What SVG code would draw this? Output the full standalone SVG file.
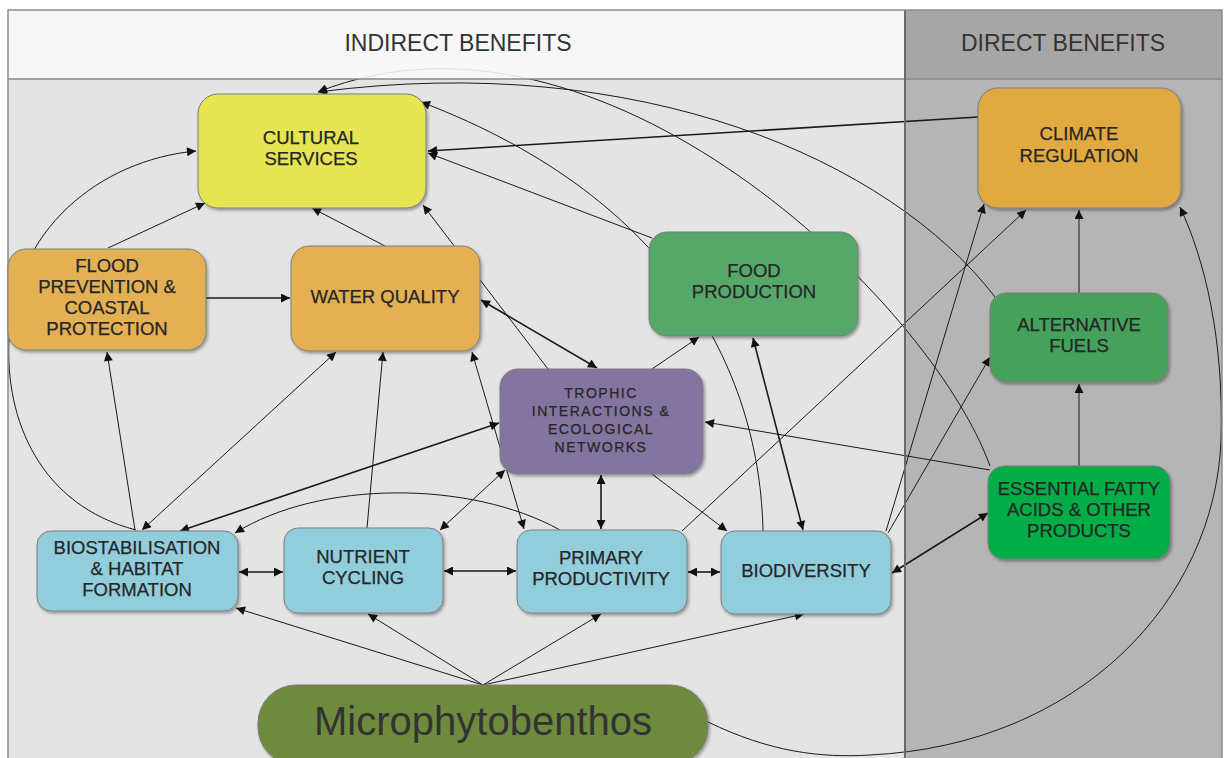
<svg xmlns="http://www.w3.org/2000/svg" width="1225" height="758" viewBox="0 0 1225 758">
<style>
.lbl{font-family:"Liberation Sans",Arial,sans-serif;font-size:18.5px;fill:#262626;text-anchor:middle;stroke:#262626;stroke-width:0.25}
.sm{font-size:14px;letter-spacing:1.5px}
.hdr{font-family:"Liberation Sans",Arial,sans-serif;font-size:23px;fill:#333;text-anchor:middle}
.box{stroke:#7d7d7d;stroke-width:1;filter:url(#sh)}
.c{fill:none;stroke:#1a1a1a;stroke-width:1}
.a{marker-end:url(#ah)}
.b{marker-start:url(#ah);marker-end:url(#ah)}
.t{stroke-width:1.6}
</style>
<defs>
<marker id="ah" viewBox="0 0 10 10" refX="10" refY="5" markerWidth="11" markerHeight="9" markerUnits="userSpaceOnUse" orient="auto-start-reverse">
<path d="M0,0 L10,5 L0,10 z" fill="#111"/>
</marker>
<filter id="sh" x="-10%" y="-10%" width="125%" height="130%">
<feDropShadow dx="1.5" dy="2" stdDeviation="1.5" flood-color="#000" flood-opacity="0.35"/>
</filter>
</defs>
<g id="background">
<rect x="0" y="0" width="1225" height="758" fill="#ffffff"/>
<rect x="8" y="79" width="897" height="679" fill="#e4e4e4"/>
<rect x="905" y="79" width="317" height="679" fill="#b5b5b5"/>
</g>
<g id="connectors">
<path class="c a" d="M108,248 L205,203"/>
<path class="c a" d="M136,530 C 40,505 5,420 9,340 C 12,230 100,160 196,151"/>
<path class="c a" d="M385,246 L312,208"/>
<path class="c a" d="M548,369 L423,205"/>
<path class="c a t" d="M978,117 L428,151"/>
<path class="c a" d="M652,238 L428,153"/>
<path class="c a" d="M763,531 C 760,380 680,200 421,102"/>
<path class="c a" d="M995,297 C 890,160 640,50 318,92"/>
<path class="c a" d="M990,466 C 930,300 600,-20 318,92"/>
<path class="c a t" d="M206,298 L290,298"/>
<path class="c a" d="M135,530 L107,352"/>
<path class="c b" d="M336,352 L142,530"/>
<path class="c a" d="M367,528 L383,352"/>
<path class="c b" d="M472,352 L524,529"/>
<path class="c b t" d="M481,300 L597,368"/>
<path class="c a" d="M652,369 L699,337"/>
<path class="c b t" d="M601,475 L601,529"/>
<path class="c a" d="M652,474 L727,531"/>
<path class="c b" d="M505,470 L440,530"/>
<path class="c b t" d="M180,531 L499,423"/>
<path class="c a" d="M560,530 C 470,480 320,480 235,533"/>
<path class="c b t" d="M239,572 L283,572"/>
<path class="c b t" d="M444,571 L516,571"/>
<path class="c b t" d="M688,572 L720,572"/>
<path class="c b t" d="M753,338 L803,530"/>
<path class="c a" d="M682,531 L1026,210"/>
<path class="c a" d="M886,531 L984,204"/>
<path class="c a" d="M888,533 L990,357"/>
<path class="c b t" d="M892,573 L988,513"/>
<path class="c a" d="M990,470 L705,422"/>
<path class="c a" d="M1079,466 L1079,384"/>
<path class="c a" d="M1079,293 L1079,210"/>
<path class="c a" d="M708,722 C 770,752 820,758 870,755 C 1080,745 1215,600 1221,440 C 1224,340 1205,260 1180,207"/>
<path class="c a" d="M483,685 L236,608"/>
<path class="c a" d="M483,685 L368,614"/>
<path class="c a" d="M483,685 L601,614"/>
<path class="c a" d="M483,685 L804,614"/>
</g>
<g id="headers">
<rect x="8" y="10" width="897" height="69" fill="#f6f6f6" fill-opacity="0.9"/>
<rect x="905" y="10" width="317" height="69" fill="#a6a6a6"/>
<line x1="8" y1="79" x2="1222" y2="79" stroke="#8a8a8a" stroke-width="1.5"/>
<line x1="905" y1="10" x2="905" y2="758" stroke="#6a6a6a" stroke-width="2"/>
<rect x="8" y="10" width="1214" height="760" fill="none" stroke="#8a8a8a" stroke-width="1.5"/>
<text class="hdr" x="458" y="51">INDIRECT BENEFITS</text>
<text class="hdr" x="1063" y="51">DIRECT BENEFITS</text>
</g>
<g id="cultural">
<rect class="box" x="198" y="94" width="228" height="114" rx="20" fill="#e5e552"/>
<text class="lbl" x="311" y="144">CULTURAL</text>
<text class="lbl" x="311" y="165">SERVICES</text>
</g>
<g id="flood">
<rect class="box" x="8" y="249" width="198" height="101" rx="18" fill="#e3b052"/>
<text class="lbl" x="107" y="272">FLOOD</text>
<text class="lbl" x="107" y="293">PREVENTION &amp;</text>
<text class="lbl" x="107" y="314">COASTAL</text>
<text class="lbl" x="107" y="335">PROTECTION</text>
</g>
<g id="water">
<rect class="box" x="291" y="246" width="189" height="105" rx="18" fill="#e3b052"/>
<text class="lbl" x="385" y="303">WATER QUALITY</text>
</g>
<g id="food">
<rect class="box" x="649" y="232" width="209" height="104" rx="18" fill="#56a86b"/>
<text class="lbl" x="754" y="277">FOOD</text>
<text class="lbl" x="754" y="298">PRODUCTION</text>
</g>
<g id="trophic">
<rect class="box" x="500" y="369" width="203" height="105" rx="18" fill="#83749f"/>
<text class="lbl sm" x="601" y="398">TROPHIC</text>
<text class="lbl sm" x="601" y="416">INTERACTIONS &amp;</text>
<text class="lbl sm" x="601" y="434">ECOLOGICAL</text>
<text class="lbl sm" x="601" y="452">NETWORKS</text>
</g>
<g id="climate">
<rect class="box" x="978" y="88" width="203" height="120" rx="20" fill="#e0aa40"/>
<text class="lbl" x="1079" y="140">CLIMATE</text>
<text class="lbl" x="1079" y="162">REGULATION</text>
</g>
<g id="altfuels">
<rect class="box" x="990" y="293" width="178" height="89" rx="16" fill="#44a15b"/>
<text class="lbl" x="1079" y="331">ALTERNATIVE</text>
<text class="lbl" x="1079" y="352">FUELS</text>
</g>
<g id="essential">
<rect class="box" x="988" y="466" width="182" height="93" rx="16" fill="#01ad47"/>
<text class="lbl" x="1079" y="495">ESSENTIAL FATTY</text>
<text class="lbl" x="1079" y="516">ACIDS &amp; OTHER</text>
<text class="lbl" x="1079" y="537">PRODUCTS</text>
</g>
<g id="biostab">
<rect class="box" x="37" y="531" width="201" height="80" rx="14" fill="#92cddc"/>
<text class="lbl" x="137" y="554">BIOSTABILISATION</text>
<text class="lbl" x="137" y="575">&amp; HABITAT</text>
<text class="lbl" x="137" y="596">FORMATION</text>
</g>
<g id="nutrient">
<rect class="box" x="284" y="528" width="159" height="85" rx="14" fill="#92cddc"/>
<text class="lbl" x="363" y="563">NUTRIENT</text>
<text class="lbl" x="363" y="584">CYCLING</text>
</g>
<g id="primary">
<rect class="box" x="517" y="530" width="170" height="83" rx="14" fill="#92cddc"/>
<text class="lbl" x="601" y="564">PRIMARY</text>
<text class="lbl" x="601" y="585">PRODUCTIVITY</text>
</g>
<g id="biodiversity">
<rect class="box" x="721" y="531" width="170" height="83" rx="14" fill="#92cddc"/>
<text class="lbl" x="806" y="577">BIODIVERSITY</text>
</g>
<g id="micro">
<rect class="box" x="258" y="685" width="450" height="80" rx="38" fill="#6e8a3d"/>
<text x="483" y="735" font-family="Liberation Sans, Arial, sans-serif" font-size="40" fill="#333" text-anchor="middle">Microphytobenthos</text>
</g>
</svg>
